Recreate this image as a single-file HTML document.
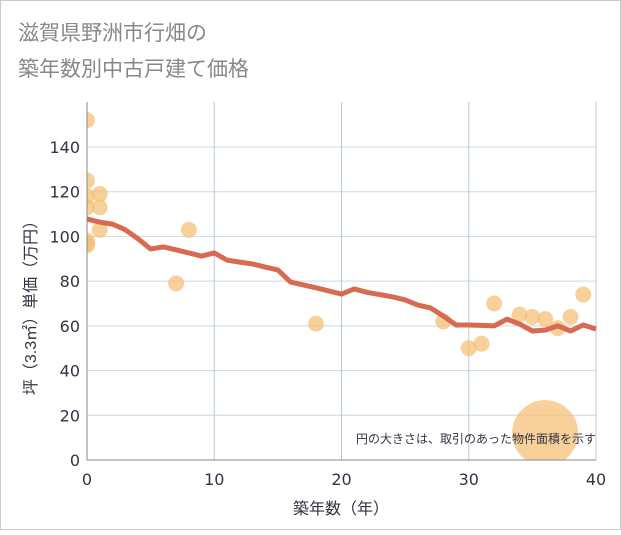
<!DOCTYPE html>
<html><head><meta charset="utf-8"><style>
body{margin:0;background:#fff}
#c{width:621px;height:530px;position:relative;font-family:"Liberation Sans","Noto Sans CJK JP",sans-serif}
</style></head><body>
<div id="c">
<svg id="s" width="621" height="530" xmlns="http://www.w3.org/2000/svg">
<defs><clipPath id="pc"><rect x="87" y="100" width="510" height="360"/></clipPath></defs>
<rect x="0.5" y="0.5" width="620" height="529" fill="#fff" stroke="#ccc"/>
<text x="18" y="40" font-size="21" fill="#888" font-family="Liberation Sans,Noto Sans CJK JP,sans-serif">滋賀県野洲市行畑の</text>
<text x="18" y="76" font-size="21" fill="#888" font-family="Liberation Sans,Noto Sans CJK JP,sans-serif">築年数別中古戸建て価格</text>
<g id="grid"></g><g id="marks" clip-path="url(#pc)"></g><g id="axes"></g>
<text x="596" y="443" font-size="12" fill="#334" text-anchor="end" font-family="Liberation Sans,Noto Sans CJK JP,sans-serif">円の大きさは、取引のあった物件面積を示す</text>
<text x="341" y="514" font-size="16" fill="#334" text-anchor="middle" font-family="Liberation Sans,Noto Sans CJK JP,sans-serif">築年数（年）</text>
<text transform="translate(36,304) rotate(-90)" font-size="16" fill="#334" text-anchor="middle" font-family="Liberation Sans,Noto Sans CJK JP,sans-serif">坪（3.3㎡）単価（万円）</text>
</svg></div>
<script>
const xTicks=[0,10,20,30,40];
const yTicks=[0,20,40,60,80,100,120,140];
const lineYears=[0,1,2,3,4,5,6,7,8,9,10,11,12,13,14,15,16,17,18,19,20,21,22,23,24,25,26,27,28,29,30,31,32,33,34,35,36,37,38,39,40];
const lineValues=[107.8,106.4,105.5,103,99,94.4,95.3,94,92.6,91.2,92.6,89.4,88.5,87.7,86.3,85,79.6,78.3,77,75.6,74.2,76.5,75,74,73,71.6,69.3,68,64.4,60.4,60.4,60.2,60,63,60.8,57.7,58.1,60,57.7,60.4,58.6];
const ptYears=[0,0,0,0,1,1,1,0,0,0,7,8,18,28,30,31,32,34,35,36,37,38,39,36];
const ptValues=[152,125,118,113,119,113,103,98,96,97,79,103,61,62,50,52,70,65,64,63,59,64,74,12];
const ptSizes=[8,8,8,8,8,8,8,8,8,8,8,8,8,8,8,8,8,8,8,8,8,8,8,33];
const NS="http://www.w3.org/2000/svg";
const X=v=>87+v*(596-87)/40, Y=v=>460-v*(460-147)/140;
const grid=document.getElementById('grid'),marks=document.getElementById('marks'),axes=document.getElementById('axes');
function mk(t,a,p){const e=document.createElementNS(NS,t);for(const k in a)e.setAttribute(k,a[k]);p.appendChild(e);return e;}
yTicks.forEach(v=>{if(v>0){const l=mk('line',{x1:87,x2:596,y1:Y(v),y2:Y(v),stroke:'#c9d9ea','stroke-width':1},grid);

}
const t=mk('text',{x:80,y:Y(v)+6,'text-anchor':'end','font-size':16,fill:'#334','font-family':'DejaVu Sans,sans-serif'},axes);t.textContent=v;

});
xTicks.forEach(v=>{if(v>0){const l=mk('line',{x1:X(v),x2:X(v),y1:102,y2:460,stroke:'#b8c8d8','stroke-width':1},grid);

}
const t=mk('text',{x:X(v),y:485,'text-anchor':'middle','font-size':16,fill:'#334','font-family':'DejaVu Sans,sans-serif'},axes);t.textContent=v;

});
const ax=mk('path',{d:'M87 102V460H596',fill:'none',stroke:'#888','stroke-width':1},axes);


ptYears.forEach((yr,i)=>{const c=mk('circle',{cx:X(yr),cy:Y(ptValues[i]),r:ptSizes[i],fill:'#f5c078','fill-opacity':0.75},marks);

});
const p=mk('polyline',{points:lineYears.map((yr,i)=>X(yr)+','+Y(lineValues[i])).join(' '),fill:'none',stroke:'#d76a50','stroke-width':5,'stroke-linejoin':'round'},marks);


</script></body></html>
